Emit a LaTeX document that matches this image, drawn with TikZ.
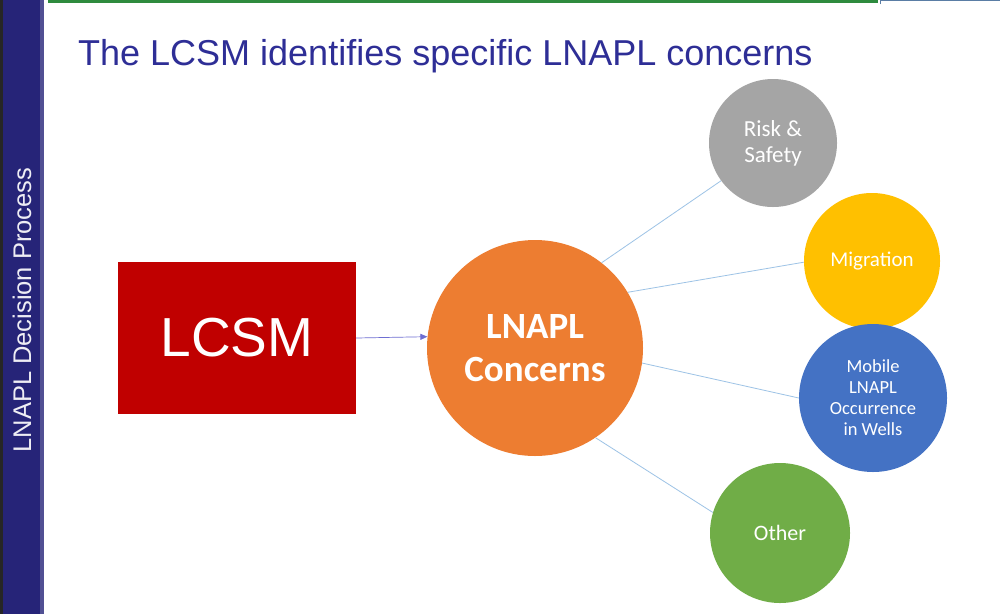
\documentclass[tikz,border=0pt]{standalone}
\usepackage{fontspec}
\setmainfont{Liberation Sans}
\newfontfamily\calib{Carlito}
\usetikzlibrary{arrows.meta}
\definecolor{navy}{RGB}{38,36,120}
\definecolor{titleblue}{RGB}{46,46,150}
\definecolor{lcsmred}{RGB}{192,0,0}
\definecolor{orangec}{RGB}{237,125,49}
\definecolor{grayc}{RGB}{165,165,165}
\definecolor{yellowc}{RGB}{255,192,0}
\definecolor{bluec}{RGB}{68,114,196}
\definecolor{greenc}{RGB}{112,173,71}
\definecolor{linkblue}{RGB}{157,195,230}
\definecolor{arrowblue}{RGB}{110,110,210}
\definecolor{topgreen}{RGB}{46,139,62}
\definecolor{topsteel}{RGB}{90,125,165}
\tikzset{
  concern/.style={circle, inner sep=0pt, text=white, align=center, font=\calib},
  link/.style={draw=linkblue, line width=0.8pt},
}
\begin{document}
\begin{tikzpicture}[x=1pt,y=-1pt]
\useasboundingbox (0,0) rectangle (1000,614);
\fill[white] (0,0) rectangle (1000,614);
% top lines
\fill[topgreen] (48,0) rectangle (878,3);
\draw[topsteel, line width=1pt] (880,4) -- (880,0.5) -- (1000,0.5);
% left bar
\fill[navy] (0,0) rectangle (44,614);
\fill[black!85] (0,0) rectangle (3,614);
\fill[navy!80!white] (40,0) rectangle (44,614);
\node[rotate=90, text=white!92!navy, font=\fontsize{25.5}{30}\selectfont] (side) at (22,310) {LNAPL Decision Process};
% title
\node[anchor=base west, text=titleblue, font=\fontsize{36}{42}\selectfont, inner sep=0pt] (title) at (78,65) {The LCSM identifies specific LNAPL concerns};
% LCSM box
\node[fill=lcsmred, minimum width=238pt, minimum height=152pt, inner sep=0pt, text=white, font=\fontsize{55}{60}\selectfont] (lcsm) at (237,338) {LCSM};
% concerns
\node[concern, fill=orangec, minimum size=216pt, font=\calib\bfseries\fontsize{37}{43}\selectfont] (conc) at (535,348) {LNAPL\\Concerns};
\node[concern, fill=grayc, minimum size=128pt, font=\calib\fontsize{23}{26}\selectfont] (risk) at (773,143) {Risk \&\\Safety};
\node[concern, fill=yellowc, minimum size=136pt, font=\calib\fontsize{21}{25}\selectfont] (mig) at (872,261) {Migration};
\node[concern, fill=bluec, minimum size=148pt, font=\calib\fontsize{18.5}{21}\selectfont] (mob) at (873,398) {Mobile\\LNAPL\\Occurrence\\in Wells};
\node[concern, fill=greenc, minimum size=140pt, font=\calib\fontsize{22}{26}\selectfont] (oth) at (780,533) {Other};
% connectors
\draw[arrowblue, line width=0.7pt, -{Triangle[length=7pt,width=6pt]}] (lcsm.east) -- (conc.174.7);
\draw[link] (conc.52) -- (risk.216);
\draw[link] (conc.31) -- (mig.181);
\draw[link] (conc.-8) -- (mob.180);
\draw[link] (conc.-56) -- (oth.163);
\end{tikzpicture}
\end{document}
